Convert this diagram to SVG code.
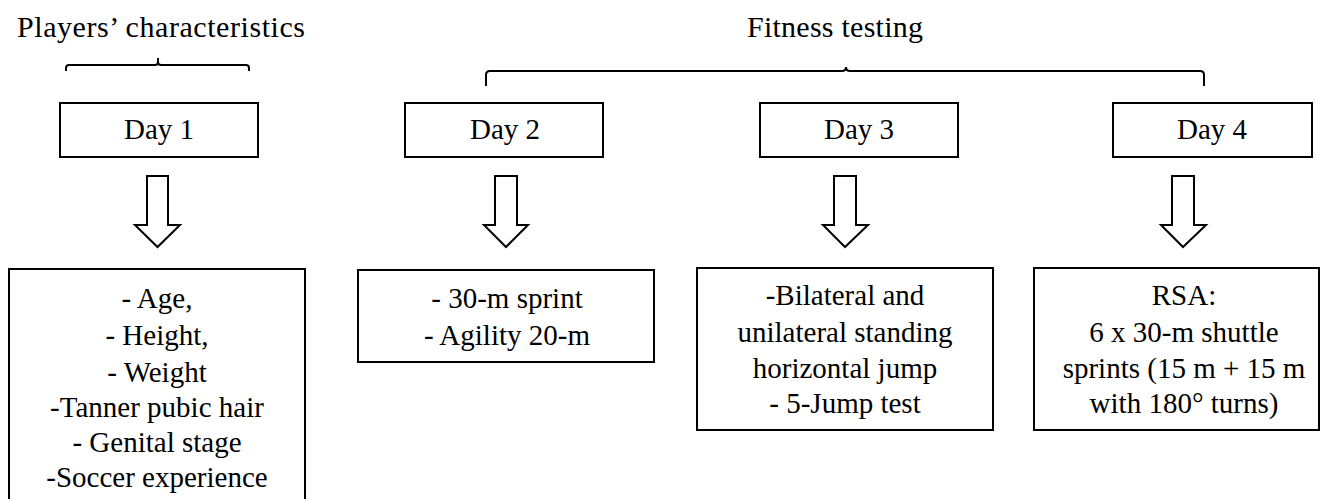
<svg xmlns="http://www.w3.org/2000/svg" width="1321" height="499" viewBox="0 0 1321 499">
<style>
.box{fill:#fff;stroke:#000;stroke-width:2}
.br{fill:none;stroke:#000;stroke-width:2}
.ar{fill:#fff;stroke:#000;stroke-width:2;stroke-linejoin:miter}
</style>
<rect width="1321" height="499" fill="#fff"/>
<g id="title-players"><text font-family="Liberation Serif" font-size="30" text-anchor="middle" x="161" y="37" textLength="288" lengthAdjust="spacing">Players’ characteristics</text></g>
<g id="title-fitness"><text font-family="Liberation Serif" font-size="30" text-anchor="middle" x="835" y="37" textLength="176" lengthAdjust="spacing">Fitness testing</text></g>
<g id="brackets">
<path class="br" d="M66,71 V68 Q66,65 69,65 H155 Q158,65 158,62 V58 M158,58 V62 Q158,65 161,65 H246 Q249,65 249,68 V71"/>
<path class="br" d="M486,86 V75 Q486,71 490,71 H842 Q846,71 846,67 M846,67 Q846,71 850,71 H1200 Q1204,71 1204,75 V86"/>
</g>
<g id="day1"><rect class="box" x="60" y="103" width="198" height="54"/><text font-family="Liberation Serif" font-size="29" text-anchor="middle" x="159" y="139">Day 1</text></g>
<g id="day2"><rect class="box" x="405" y="103" width="198" height="54"/><text font-family="Liberation Serif" font-size="29" text-anchor="middle" x="505" y="139">Day 2</text></g>
<g id="day3"><rect class="box" x="760" y="103" width="198" height="54"/><text font-family="Liberation Serif" font-size="29" text-anchor="middle" x="859" y="139">Day 3</text></g>
<g id="day4"><rect class="box" x="1113" y="103" width="199" height="54"/><text font-family="Liberation Serif" font-size="29" text-anchor="middle" x="1212" y="139">Day 4</text></g>
<g id="connectors">
<path class="ar" d="M147,176 H168 V225 H180 L157.5,247 L135,225 H147 Z"/>
<path class="ar" d="M495,176 H517 V225 H528 L506,247 L484,225 H495 Z"/>
<path class="ar" d="M834,176 H856 V225 H868 L845,247 L823,225 H834 Z"/>
<path class="ar" d="M1172,176 H1194 V225 H1206 L1183,247 L1161,225 H1172 Z"/>
</g>
<g id="detail1"><rect class="box" x="9" y="269" width="296" height="240"/>
<text font-family="Liberation Serif" font-size="29" text-anchor="middle" x="157" y="308">- Age,</text>
<text font-family="Liberation Serif" font-size="29" text-anchor="middle" x="157" y="345">- Height,</text>
<text font-family="Liberation Serif" font-size="29" text-anchor="middle" x="157" y="382">- Weight</text>
<text font-family="Liberation Serif" font-size="29" text-anchor="middle" x="157" y="417">-Tanner pubic hair</text>
<text font-family="Liberation Serif" font-size="29" text-anchor="middle" x="157" y="452">- Genital stage</text>
<text font-family="Liberation Serif" font-size="29" text-anchor="middle" x="157" y="487">-Soccer experience</text>
</g>
<g id="detail2"><rect class="box" x="358" y="270" width="296" height="92"/>
<text font-family="Liberation Serif" font-size="29" text-anchor="middle" x="507" y="308">- 30-m sprint</text>
<text font-family="Liberation Serif" font-size="29" text-anchor="middle" x="507" y="345">- Agility 20-m</text>
</g>
<g id="detail3"><rect class="box" x="697" y="268" width="296" height="162"/>
<text font-family="Liberation Serif" font-size="29" text-anchor="middle" x="845" y="305">-Bilateral and</text>
<text font-family="Liberation Serif" font-size="29" text-anchor="middle" x="845" y="342">unilateral standing</text>
<text font-family="Liberation Serif" font-size="29" text-anchor="middle" x="845" y="378">horizontal jump</text>
<text font-family="Liberation Serif" font-size="29" text-anchor="middle" x="845" y="413">- 5-Jump test</text>
</g>
<g id="detail4"><rect class="box" x="1034" y="268" width="285" height="162"/>
<text font-family="Liberation Serif" font-size="29" text-anchor="middle" x="1184" y="305">RSA:</text>
<text font-family="Liberation Serif" font-size="29" text-anchor="middle" x="1184" y="342">6 x 30-m shuttle</text>
<text font-family="Liberation Serif" font-size="29" text-anchor="middle" x="1184" y="378">sprints (15 m + 15 m</text>
<text font-family="Liberation Serif" font-size="29" text-anchor="middle" x="1184" y="413">with 180° turns)</text>
</g>
</svg>
